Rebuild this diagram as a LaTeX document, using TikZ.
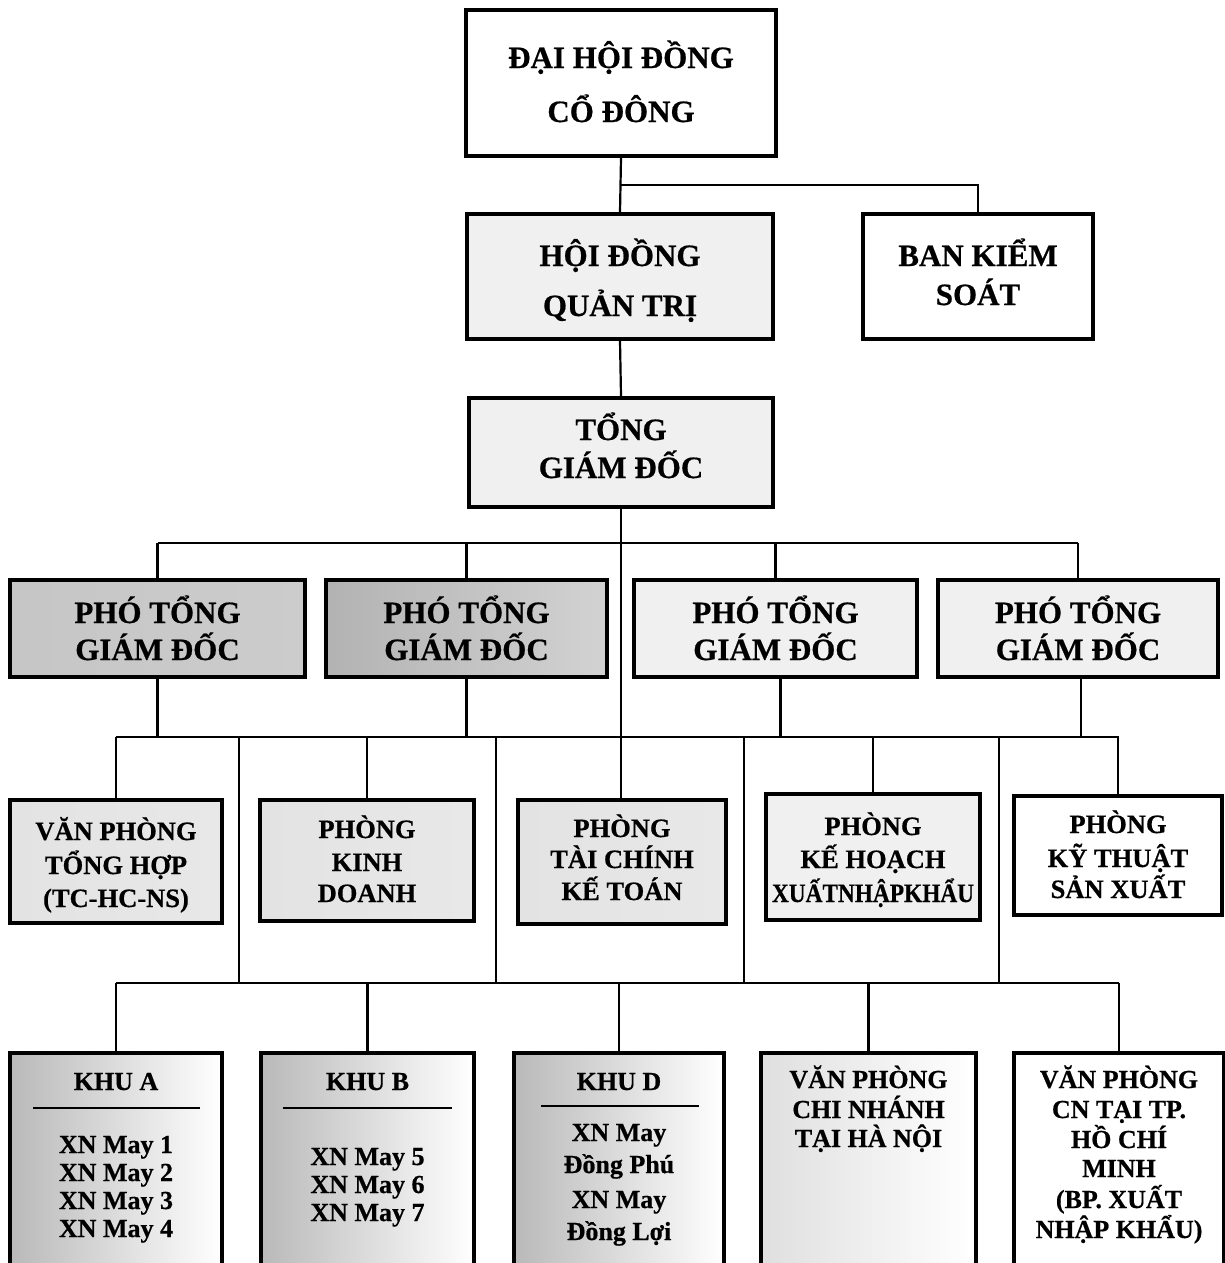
\documentclass[tikz,border=0pt]{standalone}
\usepackage{fontspec}
\setmainfont{Liberation Serif}[BoldFeatures={FakeBold=0.6}]
\begin{document}
\begin{tikzpicture}[x=1pt,y=-1pt,
  box/.style={draw, line width=3.4pt, inner sep=0pt, fill=white},
  conn/.style={line width=2.2pt},
  rulel/.style={line width=2.4pt},
  tA/.style={font=\fontsize{31}{31}\selectfont\bfseries, anchor=base, inner sep=0pt},
  tB/.style={font=\fontsize{26.5}{26}\selectfont\bfseries, anchor=base, inner sep=0pt},
  tC/.style={font=\fontsize{26}{26}\selectfont\bfseries, anchor=base, inner sep=0pt},
  sh1/.style={left color=gray!45, middle color=white, right color=gray!40},
  sh2/.style={left color=gray!60, middle color=white, right color=gray!35},
  sh3/.style={left color=gray!12, middle color=white, right color=gray!12},
  sh4/.style={left color=gray!22, middle color=white, right color=gray!18},
  sh5/.style={left color=gray!55, right color=white},
  sh6/.style={left color=gray!25, right color=white},
]
\useasboundingbox (0,0) rectangle (1225,1263);
\clip (0,0) rectangle (1225,1263);
\fill[white] (0,0) rectangle (1225,1263);

% box macro: name, x1, y1, x2, y2, extra style
\newcommand\bx[6]{\node[box,#6, minimum width={(#4-#2)*1pt}, minimum height={(#5-#3)*1pt}] (#1) at ({(#2+#4)/2},{(#3+#5)/2}) {};}

% ---- boxes ----
\bx{dh}{466}{10}{776}{156}{}
\bx{hdqt}{467}{214}{773}{339}{sh3}
\bx{bks}{863}{214}{1093}{339}{}
\bx{tgd}{469}{398}{773}{507}{sh3}
\bx{pho1}{10}{580}{305}{677}{sh1}
\bx{pho2}{326}{580}{607}{677}{sh2}
\bx{pho3}{634}{580}{917}{677}{sh3}
\bx{pho4}{938}{580}{1218}{677}{sh3}
\bx{vpth}{10}{800}{222}{923}{sh4}
\bx{kd}{260}{800}{474}{921}{sh4}
\bx{tc}{518}{800}{726}{924}{sh4}
\bx{kh}{766}{794}{980}{920}{sh3}
\bx{kt}{1014}{796}{1222}{915}{}
\bx{khua}{10}{1053}{222}{1300}{sh5}
\bx{khub}{261}{1053}{474}{1300}{sh5}
\bx{khud}{514}{1053}{724}{1300}{sh5}
\bx{vphn}{761}{1053}{976}{1300}{sh6}
\bx{vphcm}{1014}{1053}{1224}{1300}{}

% ---- connectors ----
\coordinate (j0) at (621,185);
\coordinate (bus1) at (0,543);
\coordinate (bus2) at (0,737);
\coordinate (bus3) at (0,983);
\draw[conn] (dh.south) -- (hdqt.north);
\draw[conn] (dh.south |- j0) -| (bks.north);
\draw[conn] (hdqt.south) -- (tgd.north);
\draw[conn] (tgd.south) -- (tgd.south |- tc.north);
% bus 1
\draw[conn] (pho1.north |- bus1) -- (pho4.north |- bus1);
\foreach \p in {pho1,pho2,pho3,pho4} \draw[conn] (\p.north |- bus1) -- (\p.north);
% bus 2
\draw[conn] (vpth.north |- bus2) -- ([xshift=1pt]kt.north |- bus2);
\draw[conn] (pho1.south) -- (pho1.south |- bus2);
\draw[conn] (pho2.south) -- (pho2.south |- bus2);
\draw[conn] ([xshift=5pt]pho3.south) -- ([xshift=5pt]pho3.south |- bus2);
\draw[conn] ([xshift=3pt]pho4.south) -- ([xshift=3pt]pho4.south |- bus2);
\foreach \p in {vpth,kd,kh,kt} \draw[conn] (\p.north |- bus2) -- (\p.north);
% long drops bus2 -> bus3
\coordinate (l1a) at (239,737); \coordinate (l1b) at (239,983);
\coordinate (l2a) at (496,737); \coordinate (l2b) at (496,983);
\coordinate (l3a) at (744,737); \coordinate (l3b) at (744,983);
\coordinate (l4a) at (999,737); \coordinate (l4b) at (999,983);
\draw[conn] (l1a) -- (l1b);
\draw[conn] (l2a) -- (l2b);
\draw[conn] (l3a) -- (l3b);
\draw[conn] (l4a) -- (l4b);
% bus 3
\draw[conn] (khua.north |- bus3) -- (vphcm.north |- bus3);
\foreach \p in {khua,khub,khud,vphn,vphcm} \draw[conn] (\p.north |- bus3) -- (\p.north);

% ---- texts ----
\node[tA] (dh1) at (dh.center |- 0,68) {ĐẠI HỘI ĐỒNG};
\node[tA] (dh2) at (dh.center |- 0,122) {CỔ ĐÔNG};
\node[tA] (hd1) at (hdqt.center |- 0,266) {HỘI ĐỒNG};
\node[tA] (hd2) at (hdqt.center |- 0,316) {QUẢN TRỊ};
\node[tA] (bk1) at (bks.center |- 0,266) {BAN KIỂM};
\node[tA] (bk2) at (bks.center |- 0,305) {SOÁT};
\node[tA] (tg1) at (tgd.center |- 0,440) {TỔNG};
\node[tA] (tg2) at (tgd.center |- 0,478) {GIÁM ĐỐC};
\foreach \p in {pho1,pho2,pho3,pho4}{
  \node[tA] (\p-a) at (\p.center |- 0,623) {PHÓ TỔNG};
  \node[tA] (\p-b) at (\p.center |- 0,660) {GIÁM ĐỐC};
}
\node[tB] (vp1) at (vpth.center |- 0,840) {VĂN PHÒNG};
\node[tB] (vp2) at (vpth.center |- 0,874) {TỔNG HỢP};
\node[tB] (vp3) at (vpth.center |- 0,907) {(TC-HC-NS)};
\node[tB] (kd1) at (kd.center |- 0,838) {PHÒNG};
\node[tB] (kd2) at (kd.center |- 0,871) {KINH};
\node[tB] (kd3) at (kd.center |- 0,902) {DOANH};
\node[tB] (tc1) at (tc.center |- 0,837) {PHÒNG};
\node[tB] (tc2) at (tc.center |- 0,868) {TÀI CHÍNH};
\node[tB] (tc3) at (tc.center |- 0,900) {KẾ TOÁN};
\node[tB] (kh1) at (kh.center |- 0,835) {PHÒNG};
\node[tB] (kh2) at (kh.center |- 0,868) {KẾ HOẠCH};
\node[tB] (kh3) at (kh.center |- 0,902) {\scalebox{0.88}[1]{XUẤTNHẬPKHẨU}};
\node[tB] (kt1) at (kt.center |- 0,833) {PHÒNG};
\node[tB] (kt2) at (kt.center |- 0,867) {KỸ THUẬT};
\node[tB] (kt3) at (kt.center |- 0,898) {SẢN XUẤT};

\node[tC] (ka0) at (khua.center |- 0,1090) {KHU A};
\draw[rulel] (33,1108) -- (200,1108);
\node[tC] (ka1) at (khua.center |- 0,1153) {XN May 1};
\node[tC] (ka2) at (khua.center |- 0,1181) {XN May 2};
\node[tC] (ka3) at (khua.center |- 0,1209) {XN May 3};
\node[tC] (ka4) at (khua.center |- 0,1237) {XN May 4};

\node[tC] (kb0) at (khub.center |- 0,1090) {KHU B};
\draw[rulel] (283,1108) -- (452,1108);
\node[tC] (kb1) at (khub.center |- 0,1165) {XN May 5};
\node[tC] (kb2) at (khub.center |- 0,1193) {XN May 6};
\node[tC] (kb3) at (khub.center |- 0,1221) {XN May 7};

\node[tC] (kd0) at (khud.center |- 0,1090) {KHU D};
\draw[rulel] (541,1106) -- (699,1106);
\node[tC] (kdd1) at (khud.center |- 0,1141) {XN May};
\node[tC] (kdd2) at (khud.center |- 0,1173) {Đồng Phú};
\node[tC] (kdd3) at (khud.center |- 0,1208) {XN May};
\node[tC] (kdd4) at (khud.center |- 0,1240) {Đồng Lợi};

\node[tC] (hn1) at (vphn.center |- 0,1088) {VĂN PHÒNG};
\node[tC] (hn2) at (vphn.center |- 0,1118) {CHI NHÁNH};
\node[tC] (hn3) at (vphn.center |- 0,1147) {TẠI HÀ NỘI};

\node[tC] (hc1) at (vphcm.center |- 0,1088) {VĂN PHÒNG};
\node[tC] (hc2) at (vphcm.center |- 0,1118) {CN TẠI TP.};
\node[tC] (hc3) at (vphcm.center |- 0,1148) {HỒ CHÍ};
\node[tC] (hc4) at (vphcm.center |- 0,1177) {MINH};
\node[tC] (hc5) at (vphcm.center |- 0,1208) {(BP. XUẤT};
\node[tC] (hc6) at (vphcm.center |- 0,1238) {NHẬP KHẨU)};
\end{tikzpicture}
\end{document}
